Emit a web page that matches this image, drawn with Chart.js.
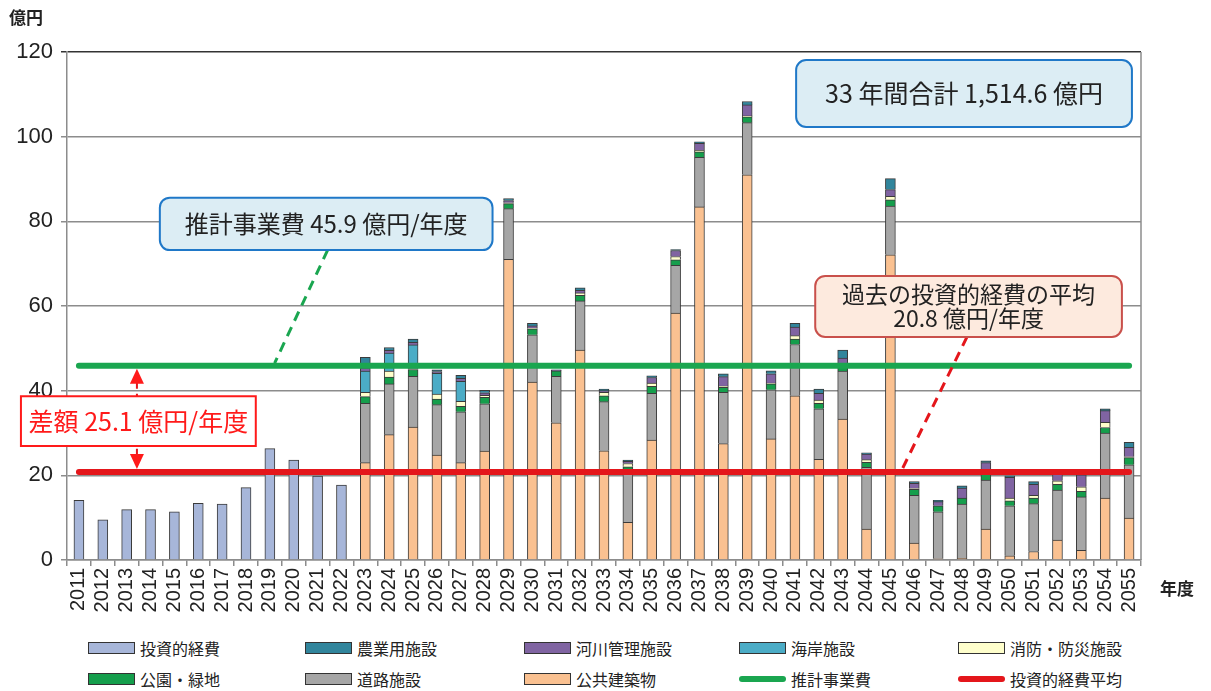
<!DOCTYPE html>
<html lang="ja">
<head>
<meta charset="utf-8">
<script src="https://cdn.jsdelivr.net/npm/chart.js@4/dist/chart.umd.min.js"></script>
<style>
  html, body { margin: 0; padding: 0; background: #fff; }
  #page { position: relative; width: 1211px; height: 691px; overflow: hidden; }
  #chartBox { position: absolute; left: 0; top: 0; width: 1211px; height: 630px; }
  #legend {
    position: absolute; left: 88px; top: 632px;
    display: grid;
    grid-template-columns: 217px 219px 215px 219px 230px;
    grid-auto-rows: 31px;
    font-family: "Noto Sans CJK JP", sans-serif;
    font-size: 16px; color: #222;
  }
  .item { display: flex; align-items: center; white-space: nowrap; }
  .swatch { width: 45px; height: 10px; border: 1px solid #333; margin-right: 5px; }
  .swatch.line { height: 6px; border: none; border-radius: 3px; width: 47px; }
</style>
</head>
<body>
<div id="page">
  <div id="chartBox"><canvas id="chart"></canvas></div>
  <div id="legend"></div>
</div>
<script>
const years = [
  "2011", "2012", "2013", "2014", "2015", "2016", "2017", "2018", "2019", "2020",
  "2021", "2022", "2023", "2024", "2025", "2026", "2027", "2028", "2029", "2030",
  "2031", "2032", "2033", "2034", "2035", "2036", "2037", "2038", "2039", "2040",
  "2041", "2042", "2043", "2044", "2045", "2046", "2047", "2048", "2049", "2050",
  "2051", "2052", "2053", "2054", "2055",
];
const pastYears = years.slice(0, 12);
const planYears = years.slice(12);

// 2011-2022 実績
const pastInvestment = [14.1, 9.5, 11.9, 11.9, 11.4, 13.4, 13.2, 17.1, 26.3, 23.6, 19.8, 17.7];

// 2023-2055 推計 (億円)
const publicBuildings = [
  23.0, 29.6, 31.4, 24.8, 23.0, 25.7, 71.0, 42.0, 32.4, 49.6,
  25.8, 8.9, 28.3, 58.3, 83.4, 27.5, 91.0, 28.6, 38.8, 23.8,
  33.3, 7.3, 72.1, 4.0, 0.3, 0.4, 7.3, 1.0, 2.0, 4.7,
  2.3, 14.6, 9.9,
];
const roads = [
  14.0, 12.0, 12.0, 11.9, 12.0, 11.2, 12.0, 11.2, 11.0, 11.6,
  11.6, 12.6, 11.1, 11.3, 11.7, 12.1, 12.3, 11.6, 12.1, 11.9,
  11.3, 14.6, 11.5, 11.3, 11.1, 12.8, 11.6, 11.8, 11.3, 11.8,
  12.6, 15.4, 12.6,
];
const parks = [
  1.6, 1.6, 1.6, 1.3, 1.3, 1.5, 1.2, 1.4, 1.3, 1.3,
  1.4, 0.5, 1.6, 1.3, 1.3, 1.2, 1.4, 1.4, 1.3, 1.3,
  1.0, 1.2, 1.5, 1.4, 1.4, 1.4, 1.4, 1.2, 1.3, 1.4,
  1.3, 1.3, 1.7,
];
const fireDisaster = [
  1.0, 1.4, 0.2, 1.2, 1.2, 0.5, 0.2, 0.2, null, 0.6,
  0.8, 0.8, 0.8, 0.8, 0.4, 0.3, 0.2, 0.2, 0.8, 0.8,
  0.5, 0.6, 0.8, 0.2, null, null, 0.3, 0.6, 0.7, 0.8,
  1.1, 1.2, 0.2,
];
const coast = [
  5.0, 4.3, 5.6, 4.9, 4.7, null, null, null, null, null,
  null, null, null, null, null, null, null, null, null, null,
  null, null, null, null, null, null, null, null, null, null,
  null, null, null,
];
const rivers = [
  0.8, 0.6, 0.6, 0.4, 0.7, 0.6, 0.5, 0.5, 0.1, 0.6,
  0.4, 0.5, 1.3, 1.4, 1.6, 2.2, 2.6, 2.2, 2.0, 1.6,
  1.6, 1.3, 1.6, 1.2, 1.0, 2.4, 2.4, 4.9, 2.6, 1.7,
  2.8, 2.8, 2.2,
];
const farms = [
  2.5, 0.7, 0.8, 0.4, 0.7, 0.6, 0.5, 0.6, 0.1, 0.6,
  0.4, 0.3, 0.4, 0.2, 0.4, 0.7, 0.8, 0.7, 0.9, 1.0,
  1.9, 0.3, 2.6, 0.4, 0.3, 0.5, 0.4, 0.4, 0.6, 0.3,
  0.2, 0.4, 1.2,
];

const planAverage = 45.9;   // 推計事業費
const pastAverage = 20.8;   // 投資的経費平均
const yTicks = [0, 20, 40, 60, 80, 100, 120];

const colors = {
  past: "#a7b6d9",
  farm: "#31859c",
  river: "#8064a2",
  coast: "#4bacc6",
  fire: "#ffffcc",
  park: "#159e4c",
  road: "#a6a6a6",
  public: "#fac191",
  planLine: "#1aa650",
  pastLine: "#e4161b",
};

function toPoints(labels, values) {
  return labels.map((label, i) => ({ x: label, y: values[i] }));
}

function barSet(label, labels, values, color) {
  return {
    label,
    data: toPoints(labels, values),
    backgroundColor: color,
    borderColor: "#3b3b3b",
    borderWidth: 1,
    barThickness: 10,
  };
}

function lineSet(label, value, color, stack) {
  return {
    type: "line",
    label,
    stack,
    data: [
      { x: years[0], y: value },
      { x: years[years.length - 1], y: value },
    ],
    borderColor: color,
    backgroundColor: color,
    borderWidth: 6,
    borderCapStyle: "round",
    pointRadius: 0,
  };
}

// lines first so they sit on top; bars bottom-first for stacking
const datasets = [
  lineSet("推計事業費", planAverage, colors.planLine, "plan"),
  lineSet("投資的経費平均", pastAverage, colors.pastLine, "past"),
  barSet("投資的経費", pastYears, pastInvestment, colors.past),
  barSet("公共建築物", planYears, publicBuildings, colors.public),
  barSet("道路施設", planYears, roads, colors.road),
  barSet("公園・緑地", planYears, parks, colors.park),
  barSet("消防・防災施設", planYears, fireDisaster, colors.fire),
  barSet("海岸施設", planYears, coast, colors.coast),
  barSet("河川管理施設", planYears, rivers, colors.river),
  barSet("農業用施設", planYears, farms, colors.farm),
];

const legendOrder = [
  "投資的経費", "農業用施設", "河川管理施設", "海岸施設", "消防・防災施設",
  "公園・緑地", "道路施設", "公共建築物", "推計事業費", "投資的経費平均",
];

const jpFont = '"Noto Sans CJK JP", sans-serif';

// callout boxes, in category-index / value coordinates
const callouts = [
  { lines: ["推計事業費 45.9 億円/年度"], i0: 3.39, i1: 17.33, v0: 85.6, v1: 73.2,
    fill: "#dcedf4", stroke: "#1f78c8", color: "#222", size: 24, radius: 10 },
  { lines: ["過去の投資的経費の平均", "20.8 億円/年度"], i0: 30.85, i1: 43.7, v0: 67.1, v1: 52.7,
    fill: "#fdeade", stroke: "#c9504b", color: "#222", size: 23, radius: 10 },
  { lines: ["33 年間合計 1,514.6 億円"], i0: 30.05, i1: 44.12, v0: 118.1, v1: 102.3,
    fill: "#dcedf4", stroke: "#1f78c8", color: "#222", size: 25, radius: 10 },
  { lines: ["差額 25.1 億円/年度"], i0: -2.43, i1: 7.41, v0: 38.7, v1: 26.9,
    fill: "#ffffff", stroke: "#ff1a1a", color: "#ff1a1a", size: 25, radius: 0 },
];
const leaders = [
  { from: [10.42, 73.2], to: [8.2, planAverage + 0.6], color: colors.planLine },
  { from: [37.21, 52.7], to: [34.49, pastAverage + 0.6], color: colors.pastLine },
];
const gapArrowIndex = 2.43;

function roundRectPath(ctx, x0, y0, x1, y1, r) {
  ctx.beginPath();
  ctx.moveTo(x0 + r, y0);
  ctx.lineTo(x1 - r, y0);
  ctx.arcTo(x1, y0, x1, y0 + r, r);
  ctx.lineTo(x1, y1 - r);
  ctx.arcTo(x1, y1, x1 - r, y1, r);
  ctx.lineTo(x0 + r, y1);
  ctx.arcTo(x0, y1, x0, y1 - r, r);
  ctx.lineTo(x0, y0 + r);
  ctx.arcTo(x0, y0, x0 + r, y0, r);
  ctx.closePath();
}

const calloutPlugin = {
  id: "callouts",
  afterDatasetsDraw(chart) {
    const { ctx, chartArea, scales } = chart;
    const px = (i) => scales.x.getPixelForValue(i);
    const py = (v) => scales.y.getPixelForValue(v);
    ctx.save();

    // right frame of the plot area
    ctx.strokeStyle = "#8c8c8c";
    ctx.lineWidth = 1.5;
    ctx.beginPath();
    ctx.moveTo(chartArea.right, chartArea.top);
    ctx.lineTo(chartArea.right, chartArea.bottom);
    ctx.stroke();

    // dashed leaders
    ctx.lineWidth = 3;
    ctx.setLineDash([10, 7]);
    leaders.forEach((l) => {
      ctx.strokeStyle = l.color;
      ctx.beginPath();
      ctx.moveTo(px(l.from[0]), py(l.from[1]));
      ctx.lineTo(px(l.to[0]), py(l.to[1]));
      ctx.stroke();
    });

    // gap arrow between the two averages
    const ax = px(gapArrowIndex);
    const yTop = py(planAverage) + 3;
    const yBot = py(pastAverage) - 3;
    ctx.strokeStyle = colors.pastLine;
    ctx.lineWidth = 2;
    ctx.setLineDash([6, 5]);
    ctx.beginPath();
    ctx.moveTo(ax, yTop + 14);
    ctx.lineTo(ax, yBot - 14);
    ctx.stroke();
    ctx.setLineDash([]);
    ctx.fillStyle = "#ff1a1a";
    ctx.beginPath();
    ctx.moveTo(ax, yTop);
    ctx.lineTo(ax - 7, yTop + 15);
    ctx.lineTo(ax + 7, yTop + 15);
    ctx.closePath();
    ctx.fill();
    ctx.beginPath();
    ctx.moveTo(ax, yBot);
    ctx.lineTo(ax - 7, yBot - 15);
    ctx.lineTo(ax + 7, yBot - 15);
    ctx.closePath();
    ctx.fill();

    // boxes
    callouts.forEach((c) => {
      const x0 = px(c.i0), x1 = px(c.i1), y0 = py(c.v0), y1 = py(c.v1);
      roundRectPath(ctx, x0, y0, x1, y1, c.radius);
      ctx.fillStyle = c.fill;
      ctx.fill();
      ctx.strokeStyle = c.stroke;
      ctx.lineWidth = 2;
      ctx.stroke();
      ctx.fillStyle = c.color;
      ctx.font = `${c.size}px ${jpFont}`;
      ctx.textAlign = "center";
      ctx.textBaseline = "middle";
      const lh = c.size + 1;
      const cy = (y0 + y1) / 2 - ((c.lines.length - 1) * lh) / 2;
      c.lines.forEach((t, k) => ctx.fillText(t, (x0 + x1) / 2, cy + k * lh));
    });

    // axis unit labels
    ctx.fillStyle = "#222";
    ctx.font = `bold 17px ${jpFont}`;
    ctx.textAlign = "left";
    ctx.textBaseline = "middle";
    ctx.fillText("億円", 9, 18);
    ctx.fillText("年度", 1160, 589);
    ctx.restore();
  },
};

new Chart(document.getElementById("chart"), {
  type: "bar",
  data: { labels: years, datasets },
  options: {
    responsive: true,
    maintainAspectRatio: false,
    animation: false,
    layout: { padding: { top: 52, right: 70, bottom: 0, left: 0 } },
    plugins: {
      legend: { display: false },
      tooltip: { enabled: false },
    },
    scales: {
      x: {
        stacked: true,
        afterFit: (scale) => { scale.height = 70; },
        grid: {
          offset: true,
          drawOnChartArea: false,
          color: "#8c8c8c",
          lineWidth: 1.5,
          tickLength: 6,
        },
        border: { color: "#8c8c8c", width: 1.5 },
        ticks: {
          autoSkip: false,
          minRotation: 90,
          maxRotation: 90,
          padding: 2,
          color: "#222",
          font: { family: '"Liberation Sans", Arial, sans-serif', size: 20 },
        },
      },
      y: {
        stacked: true,
        min: yTicks[0],
        max: yTicks[yTicks.length - 1],
        afterFit: (scale) => { scale.width = 67; },
        afterBuildTicks: (scale) => { scale.ticks = yTicks.map((v) => ({ value: v })); },
        grid: {
          color: (c) => (c.tick && c.tick.value === 120 ? "#333" : "#8c8c8c"),
          lineWidth: 1.5,
          tickLength: 6,
        },
        border: { color: "#8c8c8c", width: 1.5 },
        ticks: {
          padding: 8,
          color: "#222",
          font: { family: '"Liberation Sans", Arial, sans-serif', size: 22 },
        },
      },
    },
  },
  plugins: [calloutPlugin],
});

// legend in a 5 x 2 grid like the original
const legendEl = document.getElementById("legend");
legendOrder.forEach((name) => {
  const ds = datasets.find((d) => d.label === name);
  const item = document.createElement("div");
  item.className = "item";
  const sw = document.createElement("span");
  sw.className = ds.type === "line" ? "swatch line" : "swatch";
  sw.style.background = ds.type === "line" ? ds.borderColor : ds.backgroundColor;
  item.appendChild(sw);
  item.appendChild(document.createTextNode(name));
  legendEl.appendChild(item);
});
</script>
</body>
</html>
